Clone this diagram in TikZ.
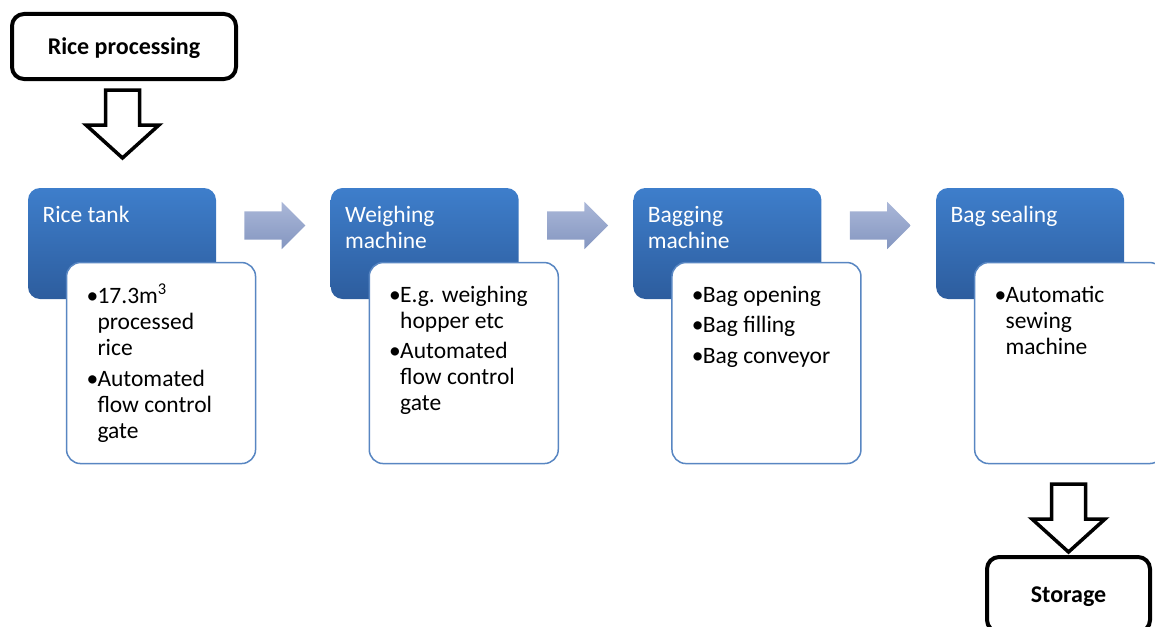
\documentclass[tikz,border=0pt]{standalone}
\usepackage{fontspec}
\setmainfont{Carlito}
\usepackage{tikz}
\usetikzlibrary{positioning,shapes.arrows}

\definecolor{stepTop}{RGB}{62,126,203}
\definecolor{stepBot}{RGB}{45,93,158}
\definecolor{detLine}{RGB}{88,134,194}
\definecolor{flowTop}{RGB}{170,183,216}
\definecolor{flowBot}{RGB}{132,150,192}

\newcommand{\bul}{\makebox[11pt][l]{\textbullet}}
\newcommand{\ind}{\hspace*{11pt}}

\tikzset{
  stepbox/.style={rounded corners=12pt, top color=stepTop, bottom color=stepBot,
    minimum width=188pt, minimum height=111pt, inner sep=0pt},
  detbox/.style={draw=detLine, line width=1.5pt, fill=white, rounded corners=14pt,
    minimum width=189pt, minimum height=201pt, inner sep=0pt},
  headtxt/.style={inner sep=0pt, align=left, text=white,
    font=\fontsize{23.5}{26}\selectfont},
  bodytxt/.style={inner sep=0pt, align=left,
    font=\fontsize{23.5}{26}\selectfont},
  flowarrow/.style={single arrow, top color=flowTop, bottom color=flowBot,
    minimum height=61pt, inner xsep=0pt, inner ysep=14pt,
    single arrow head extend=9.5pt},
  endbox/.style={draw, line width=4pt, rounded corners=12pt, text depth=0pt,
    font=\bfseries\fontsize{24}{28}\selectfont},
  downarr/.pic={
    \draw[line width=3.5pt, fill=white]
      (-17,0) -- (17,0) -- (17,35) -- (36.5,35) -- (0,68)
      -- (-36.5,35) -- (-17,35) -- cycle;
  }
}

\begin{document}
\begin{tikzpicture}[x=1pt, y=-1pt]
\useasboundingbox (0,0) rectangle (1155,626);
\clip (0,0) rectangle (1155,626);

% Start
\node[endbox, minimum width=224pt, minimum height=65pt] (proc) at (124,46.5) {Rice processing};
\pic at ([xshift=-1.5pt, yshift=-9pt]proc.south) {downarr};

% Stages
\node[stepbox] (s1) at (122,243.5) {};
\node[stepbox, right=114.3pt of s1] (s2) {};
\node[stepbox, right=114.3pt of s2] (s3) {};
\node[stepbox, right=114.3pt of s3] (s4) {};

\node[flowarrow, right=28pt of s1, yshift=18pt] (f1) {};
\node[flowarrow, right=28pt of s2, yshift=18pt] (f2) {};
\node[flowarrow, right=28pt of s3, yshift=18pt] (f3) {};

\node[headtxt, below right=16.5pt and 14.5pt of s1.north west] (h1) {\strut Rice tank};
\node[headtxt, below right=16.5pt and 14.5pt of s2.north west] (h2) {\strut Weighing\\machine};
\node[headtxt, below right=16.5pt and 14.5pt of s3.north west] (h3) {\strut Bagging\\machine};
\node[headtxt, below right=16.5pt and 14.5pt of s4.north west] (h4) {\strut Bag sealing};

% Details
\node[detbox, below right=74pt and 38pt of s1.north west] (d1) {};
\node[detbox, below right=74pt and 38pt of s2.north west] (d2) {};
\node[detbox, below right=74pt and 38pt of s3.north west] (d3) {};
\node[detbox, below right=74pt and 38pt of s4.north west] (d4) {};

\node[bodytxt, below right=21.8pt and 20.5pt of d1.north west] (b1)
  {\strut\bul 17.3m\textsuperscript{3}\\\ind processed\\\ind rice\\[4.5pt]
   \bul Automated\\\ind flow control\\\ind gate};
\node[bodytxt, below right=21.8pt and 20.5pt of d2.north west] (b2)
  {\strut\bul E.g. weighing\\\ind hopper etc\\[4.5pt]
   \bul Automated\\\ind flow control\\\ind gate};
\node[bodytxt, below right=21.8pt and 20.5pt of d3.north west] (b3)
  {\strut\bul Bag opening\\[4.5pt]\bul Bag filling\\[4.5pt]\bul Bag conveyor};
\node[bodytxt, below right=21.8pt and 20.5pt of d4.north west] (b4)
  {\strut\bul Automatic\\\ind sewing\\\ind machine};

% End
\node[endbox, minimum width=163pt, minimum height=75pt] (store) at (1068.5,594.5) {Storage};
\pic at ([yshift=71pt]store.north) {downarr};
\end{tikzpicture}
\end{document}
